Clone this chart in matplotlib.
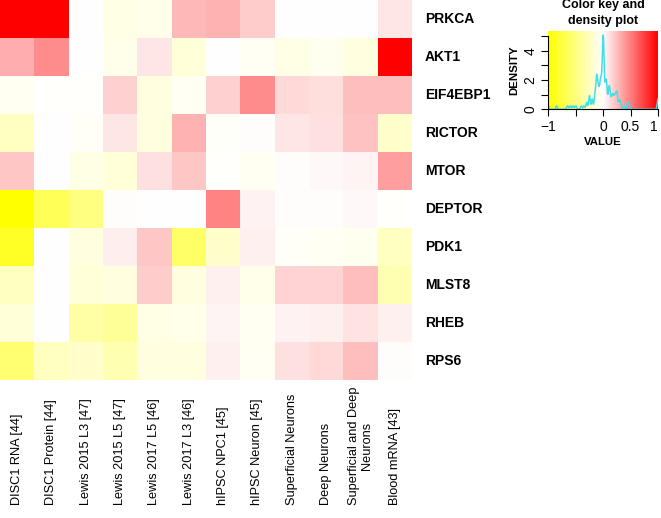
import numpy as np
import matplotlib
matplotlib.use('Agg')
import matplotlib.pyplot as plt
from matplotlib.colors import LinearSegmentedColormap
from matplotlib.transforms import blended_transform_factory

plt.rcParams['font.family'] = ['Liberation Sans', 'DejaVu Sans']

columns = ["DISC1 RNA [44]", "DISC1 Protein [44]", "Lewis 2015 L3 [47]", "Lewis 2015 L5 [47]",
           "Lewis 2017 L5 [46]", "Lewis 2017 L3 [46]", "hIPSC NPC1 [45]", "hIPSC Neuron [45]",
           "Superficial Neurons", "Deep Neurons", "Superficial and Deep\nNeurons", "Blood mRNA [43]"]
genes = ["PRKCA", "AKT1", "EIF4EBP1", "RICTOR", "MTOR", "DEPTOR", "PDK1", "MLST8", "RHEB", "RPS6"]

PRKCA    = [1.0, 1.0, 0.0, -0.10, -0.08, 0.28, 0.30, 0.20, 0.0, 0.0, 0.0, 0.10]
AKT1     = [0.32, 0.45, 0.0, -0.08, 0.10, -0.15, 0.0, -0.04, -0.10, -0.06, -0.12, 1.0]
EIF4EBP1 = [-0.05, -0.01, -0.01, 0.18, -0.12, -0.04, 0.18, 0.45, 0.15, 0.13, 0.25, 0.25]
RICTOR   = [-0.25, 0.0, -0.03, 0.10, -0.12, 0.30, -0.02, 0.01, 0.10, 0.12, 0.24, -0.20]
MTOR     = [0.22, 0.0, -0.10, -0.15, 0.12, 0.22, -0.01, -0.05, 0.01, 0.03, 0.04, 0.38]
DEPTOR   = [-1.0, -0.65, -0.50, 0.01, 0.0, 0.0, 0.48, 0.05, 0.01, 0.01, 0.03, -0.01]
PDK1     = [-0.85, 0.0, -0.12, 0.07, 0.22, -0.60, -0.20, 0.06, -0.03, -0.04, -0.06, -0.25]
MLST8    = [-0.25, 0.0, -0.15, -0.12, 0.20, -0.12, 0.06, -0.08, 0.17, 0.17, 0.25, -0.30]
RHEB     = [-0.15, 0.0, -0.35, -0.40, -0.10, -0.08, 0.04, -0.05, 0.05, 0.06, 0.11, 0.06]
RPS6     = [-0.55, -0.25, -0.20, -0.30, -0.12, -0.12, 0.06, -0.04, 0.12, 0.15, 0.25, 0.01]

data = np.array([PRKCA, AKT1, EIF4EBP1, RICTOR, MTOR, DEPTOR, PDK1, MLST8, RHEB, RPS6])
vmin, vmax = -1.0, 1.0

cmap = LinearSegmentedColormap.from_list("yw_r", ["#FFFF00", "#FFFFFF", "#FF0000"], N=256)

W, H = 661, 518
fig = plt.figure(figsize=(W / 100, H / 100), dpi=100)

# ---- heatmap ----
ax = fig.add_axes([0, 1 - 380 / H, 412 / W, 380 / H])
nr, nc = data.shape
ax.imshow(data, cmap=cmap, vmin=vmin, vmax=vmax, aspect='auto', interpolation='nearest',
          extent=[0, nc, nr, 0])
ax.set_xlim(0, nc)
ax.set_ylim(nr, 0)
ax.set_axis_off()

tr = blended_transform_factory(ax.transAxes, ax.transData)
for i, g in enumerate(genes):
    ax.text(1.031, i + 0.5, g, transform=tr, ha='left', va='center',
            fontsize=10, fontweight='bold')

trc = blended_transform_factory(ax.transData, fig.transFigure)
for j, c in enumerate(columns):
    ax.text(j + 0.5, 1 - 505 / H, c, transform=trc, rotation=90, ha='center', va='bottom',
            fontsize=9.2, multialignment='center', linespacing=1.15)

# ---- color key with density ----
kx0, kx1 = 548.3, 658.0
ky0, ky1 = 31.0, 109.3
kax = fig.add_axes([kx0 / W, 1 - ky1 / H, (kx1 - kx0) / W, (ky1 - ky0) / H])
grad = np.linspace(vmin, vmax, 512)[None, :]
kax.imshow(grad, cmap=cmap, vmin=vmin, vmax=vmax, aspect='auto', extent=[vmin, vmax, 0, 1],
           interpolation='bilinear')
kax.set_xlim(vmin, vmax)
kax.set_ylim(0, 1)

# density of the heatmap values (R density, adjust = 0.25)
x = data.ravel()
n = x.size
sd = x.std(ddof=1)
iqr = np.subtract(*np.percentile(x, [75, 25]))
bw = 0.9 * min(sd, iqr / 1.34) * n ** (-0.2) * 0.25
grid = np.linspace(x.min() - 3 * bw, x.max() + 3 * bw, 512)
dens = np.exp(-0.5 * ((grid[:, None] - x[None, :]) / bw) ** 2).sum(axis=1) / (n * bw * np.sqrt(2 * np.pi))
dmax = dens.max()
kax.plot(grid, dens / dmax * 0.95, color='#40E0E8', lw=1.1, clip_on=True)

yt = np.arange(0, int(np.floor(dmax)) + 1)
kax.set_yticks(yt / dmax * 0.95)
kax.set_yticklabels([str(v) if v % 2 == 0 else '' for v in yt], rotation=90, va='center',
                    fontsize=10)
kax.set_xticks([-1, -0.5, 0, 0.5, 1])
xtl = kax.set_xticklabels(['\u22121', '', '0', '0.5', '1'], fontsize=10)
xtl[-1].set_horizontalalignment('right')
for s in ['top', 'right']:
    kax.spines[s].set_visible(False)
kax.spines['left'].set_bounds(0, yt[-1] / dmax * 0.95)
kax.spines['bottom'].set_bounds(-1, 1)
kax.spines['left'].set_linewidth(0.8)
kax.spines['bottom'].set_linewidth(0.8)
kax.tick_params(length=5, width=0.8, pad=3)
kax.set_ylabel('DENSITY', fontsize=8.2, fontweight='bold', labelpad=3)
kax.set_xlabel('VALUE', fontsize=8.2, fontweight='bold', labelpad=2)

fig.text(603 / W, 1 - 13 / H, 'Color key and\ndensity plot', ha='center', va='center',
         fontsize=9, fontweight='bold', linespacing=1.35)

fig.savefig('out.png', dpi=100)
